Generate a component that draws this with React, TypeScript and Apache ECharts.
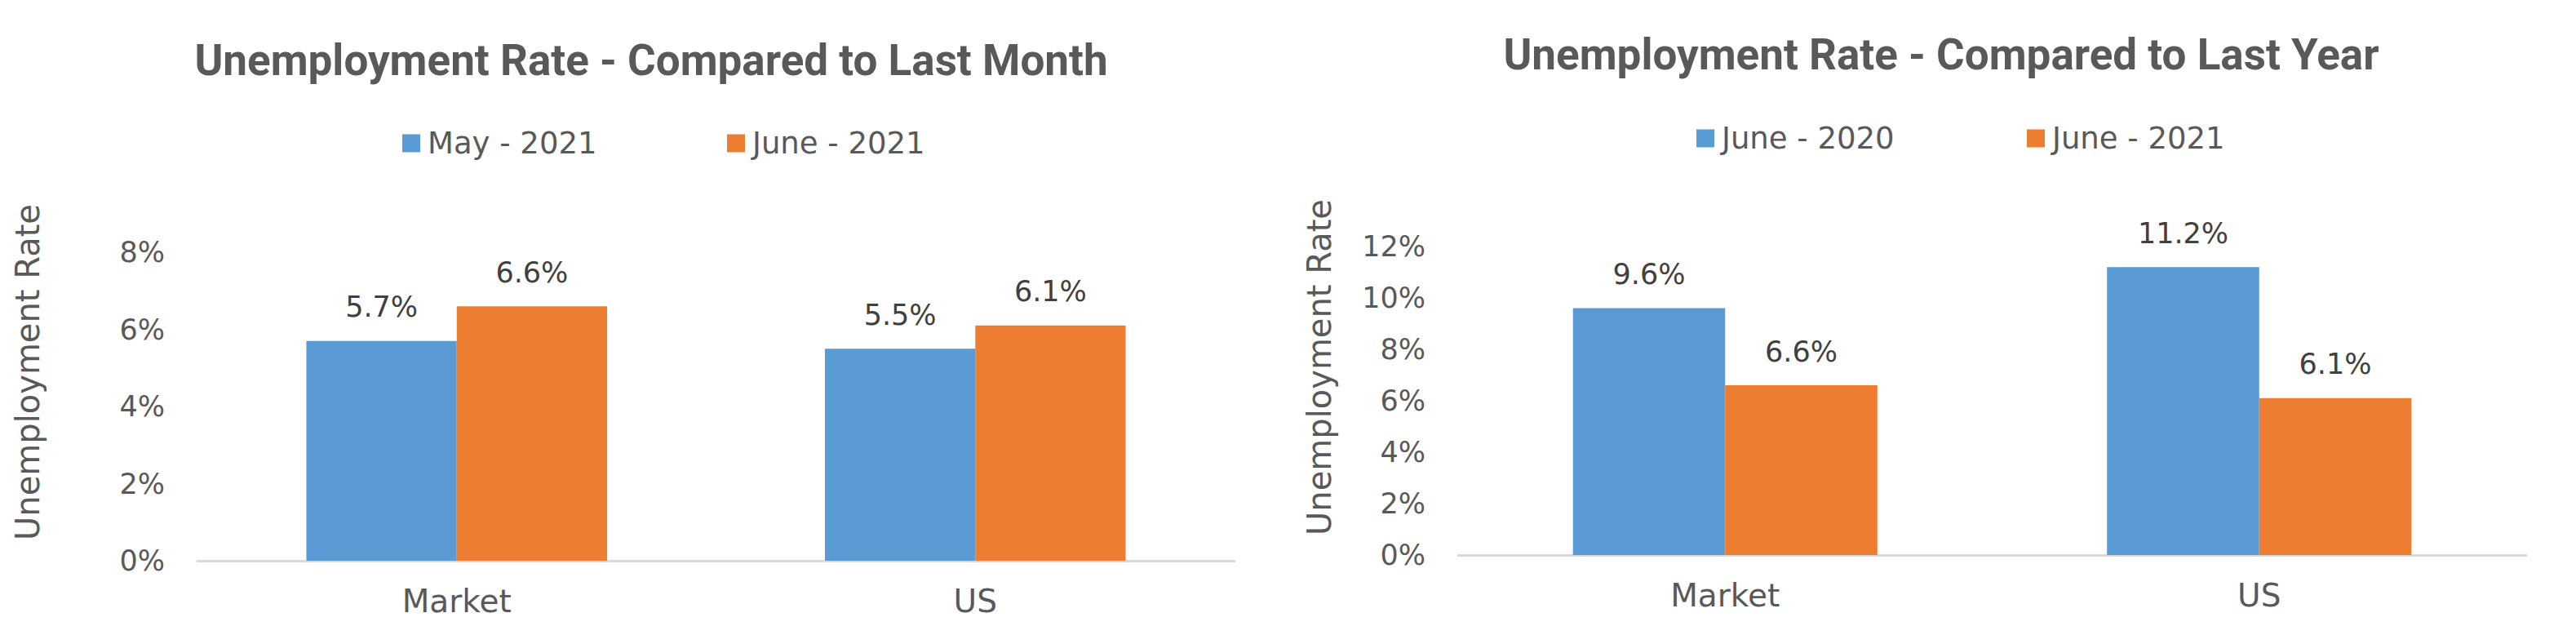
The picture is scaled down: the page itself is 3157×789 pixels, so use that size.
import React, { useEffect, useRef } from "react";
import * as echarts from "echarts";

const categories = ["Market", "US"];

const monthTitle = "Unemployment Rate - Compared to Last Month";
const monthSeriesNames = ["May - 2021", "June - 2021"];
const may2021 = [5.7, 5.5];
const june2021Month = [6.6, 6.1];
const monthAxisMax = 8;

const yearTitle = "Unemployment Rate - Compared to Last Year";
const yearSeriesNames = ["June - 2020", "June - 2021"];
const june2020 = [9.6, 11.2];
const june2021Year = [6.6, 6.1];
const yearAxisMax = 12;

const yAxisName = "Unemployment Rate";
const axisStep = 2;

const BLUE = "#5B9BD5";
const ORANGE = "#ED7D31";
const GRAY = "#595959";
const FONT = "'DejaVu Sans', sans-serif";
const TITLE_FONT = "Roboto, 'DejaVu Sans', sans-serif";

export default function App() {
  const ref = useRef<HTMLDivElement>(null);

  useEffect(() => {
    if (!ref.current) return;
    const chart = echarts.init(ref.current, null, { renderer: "svg" });

    const xAxisCommon = {
      type: "category" as const,
      data: categories,
      axisTick: { show: false },
      axisLine: { lineStyle: { color: "#D9D9D9", width: 3 } },
      axisLabel: { color: GRAY, fontSize: 39, fontFamily: FONT, margin: 30 },
    };
    const yAxisCommon = {
      type: "value" as const,
      min: 0,
      interval: axisStep,
      splitLine: { show: false },
      axisLine: { show: false },
      axisTick: { show: false },
      axisLabel: {
        color: GRAY,
        fontSize: 35,
        fontFamily: FONT,
        margin: 40,
        formatter: "{value}%",
      },
    };
    const labelCommon = {
      show: true,
      position: "top" as const,
      distance: 24,
      color: "#404040",
      fontSize: 35,
      fontFamily: FONT,
      formatter: (p: any) => `${p.value.toFixed(1)}%`,
    };
    const legendCommon = {
      itemWidth: 22,
      itemHeight: 22,
      icon: "rect",
      textStyle: {
        color: GRAY,
        fontSize: 37,
        fontFamily: FONT,
        padding: [0, 0, 0, 4],
      },
    };

    chart.setOption({
      animation: false,
      backgroundColor: "#FFFFFF",
      grid: [
        { left: 242, right: 3157 - 1513, top: 309, bottom: 789 - 687 },
        { left: 1787, right: 3157 - 3096, top: 302, bottom: 789 - 680 },
      ],
      legend: [
        { ...legendCommon, data: [monthSeriesNames[0]], left: 488, top: 152 },
        { ...legendCommon, data: [monthSeriesNames[1]], left: 886, top: 152 },
        { ...legendCommon, data: [yearSeriesNames[0]], left: 2074, top: 146 },
        { ...legendCommon, data: [yearSeriesNames[1]], left: 2479, top: 146 },
      ],
      xAxis: [
        { ...xAxisCommon, gridIndex: 0 },
        { ...xAxisCommon, gridIndex: 1 },
      ],
      yAxis: [
        { ...yAxisCommon, gridIndex: 0, max: monthAxisMax },
        { ...yAxisCommon, gridIndex: 1, max: yearAxisMax },
      ],
      series: [
        {
          name: monthSeriesNames[0],
          type: "bar",
          xAxisIndex: 0,
          yAxisIndex: 0,
          data: may2021,
          itemStyle: { color: BLUE },
          barGap: "0%",
          barCategoryGap: "42%",
          label: labelCommon,
        },
        {
          name: monthSeriesNames[1],
          type: "bar",
          xAxisIndex: 0,
          yAxisIndex: 0,
          data: june2021Month,
          itemStyle: { color: ORANGE },
          barGap: "0%",
          barCategoryGap: "42%",
          label: labelCommon,
        },
        {
          name: yearSeriesNames[0],
          type: "bar",
          xAxisIndex: 1,
          yAxisIndex: 1,
          data: june2020,
          itemStyle: { color: BLUE },
          barGap: "0%",
          barCategoryGap: "43%",
          label: labelCommon,
        },
        {
          name: yearSeriesNames[1],
          type: "bar",
          xAxisIndex: 1,
          yAxisIndex: 1,
          data: june2021Year,
          itemStyle: { color: ORANGE },
          barGap: "0%",
          barCategoryGap: "43%",
          label: labelCommon,
        },
      ],
      graphic: [
        {
          type: "text",
          x: 798,
          y: 74,
          style: {
            text: monthTitle,
            align: "center",
            verticalAlign: "middle",
            fill: GRAY,
            font: `bold 53px ${TITLE_FONT}`,
          },
        },
        {
          type: "text",
          x: 2379,
          y: 67,
          style: {
            text: yearTitle,
            align: "center",
            verticalAlign: "middle",
            fill: GRAY,
            font: `bold 53px ${TITLE_FONT}`,
          },
        },
        {
          type: "text",
          x: 34,
          y: 456,
          rotation: Math.PI / 2,
          style: {
            text: yAxisName,
            align: "center",
            verticalAlign: "middle",
            fill: GRAY,
            font: `40px ${FONT}`,
          },
        },
        {
          type: "text",
          x: 1617,
          y: 450,
          rotation: Math.PI / 2,
          style: {
            text: yAxisName,
            align: "center",
            verticalAlign: "middle",
            fill: GRAY,
            font: `40px ${FONT}`,
          },
        },
      ],
    });

    return () => chart.dispose();
  }, []);

  return (
    <div
      ref={ref}
      style={{ position: "absolute", left: 0, top: 0, width: 3157, height: 789 }}
    />
  );
}
